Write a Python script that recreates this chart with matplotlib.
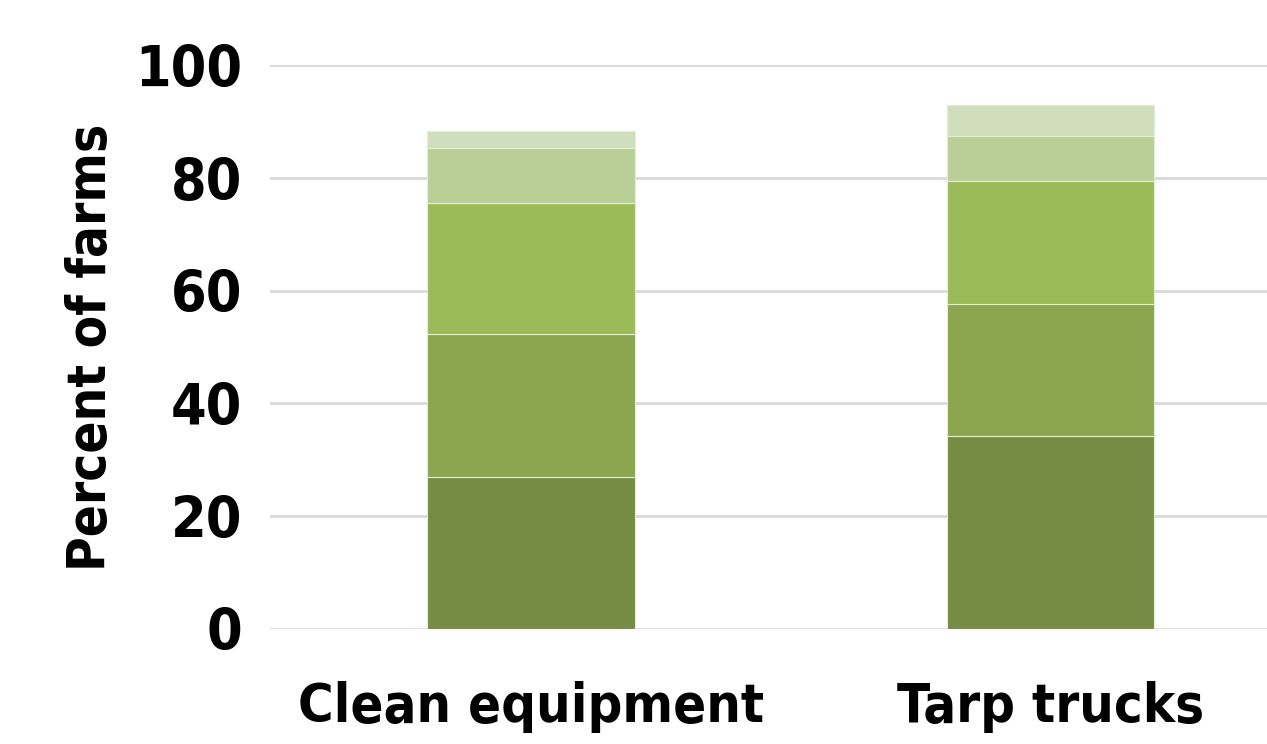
import matplotlib
matplotlib.use("Agg")
import matplotlib.pyplot as plt
import numpy as np

plt.rcParams['font.family'] = ['DejaVu Sans']
plt.rcParams['font.stretch'] = 'condensed'

categories = ["Clean equipment", "Tarp trucks"]
# Stacked segment values (percent of farms), bottom to top
seg1 = [26.9, 34.2]
seg2 = [25.4, 23.4]
seg3 = [23.3, 21.9]
seg4 = [9.8, 8.0]
seg5 = [3.0, 5.4]
segments = [seg1, seg2, seg3, seg4, seg5]
colors = ["#768C42", "#8BA64F", "#9BBB59", "#B9CF96", "#D1DEBD"]
yticks = [0, 20, 40, 60, 80, 100]

fig = plt.figure(figsize=(12.67, 7.44), dpi=100)
ax = fig.add_axes([0.213, 0.155, 0.787, 0.757])

x = np.arange(len(categories))
bottom = np.zeros(len(categories))
for vals, c in zip(segments, colors):
    ax.bar(x, vals, bottom=bottom, width=0.4, color=c,
           edgecolor="#E4EDD6", linewidth=0.8, zorder=3)
    bottom += np.array(vals)

ax.set_xlim(-0.503, 1.417)
ax.set_ylim(0, 100)
ax.set_yticks(yticks)
ax.set_yticklabels([str(t) for t in yticks], fontsize=41, fontweight='bold')
ax.set_xticks(x)
ax.set_xticklabels(categories, fontsize=39, fontweight='bold')
ax.set_ylabel("Percent of farms", fontsize=38, fontweight='bold', labelpad=13)

ax.grid(axis='y', color='#D9D9D9', linewidth=2, zorder=0)
for s in ax.spines.values():
    s.set_visible(False)
ax.tick_params(axis='both', length=0)
ax.tick_params(axis='y', pad=20)
ax.tick_params(axis='x', pad=38)

fig.savefig("out.png", dpi=100, facecolor="white")
